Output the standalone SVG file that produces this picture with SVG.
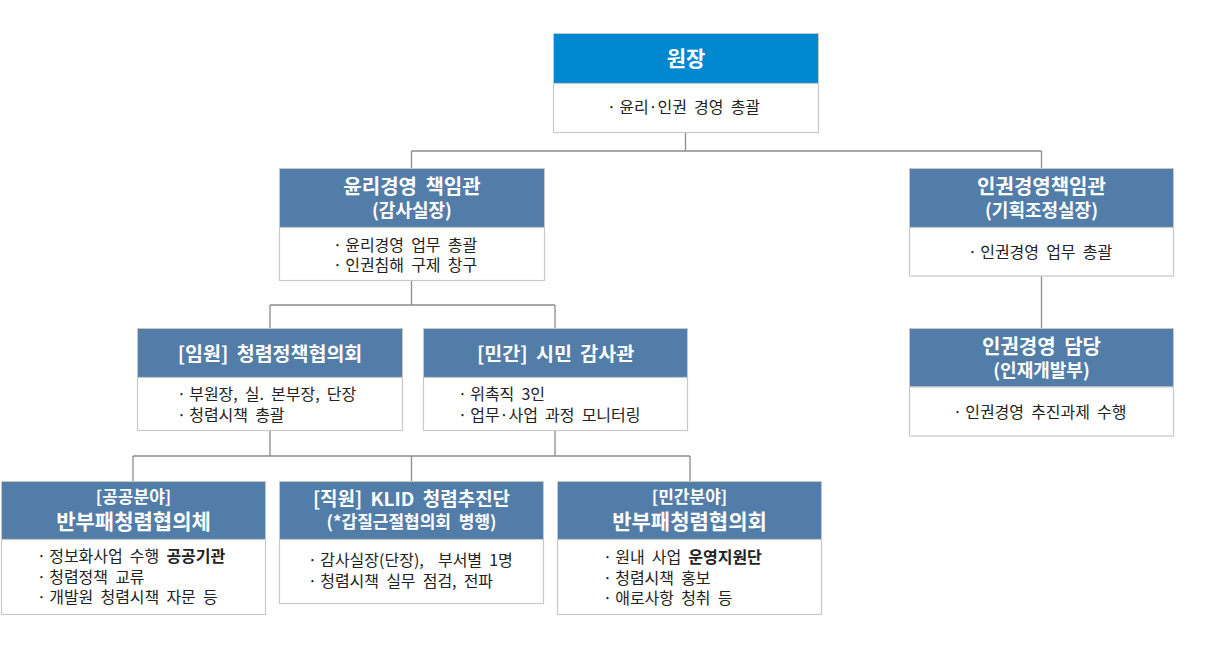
<svg xmlns="http://www.w3.org/2000/svg" width="1216" height="650" viewBox="0 0 1216 650">
<style>
.hd{fill:#527DA9;stroke:#C8C8C8;stroke-width:1}
.hdt{fill:#0088CF;stroke:#C8C8C8;stroke-width:1}
.bd{fill:#FFFFFF;stroke:#C8C8C8;stroke-width:1.2}
.ht{font-family:"Noto Sans CJK KR","Noto Sans",sans-serif;font-weight:700;fill:#FFFFFF;text-anchor:middle;word-spacing:4px}
.bt{font-family:"Noto Sans CJK KR","Noto Sans",sans-serif;font-size:16px;fill:#222222;word-spacing:3.5px}
.b{font-weight:700}
.cn{fill:none;stroke:#8C8C8C;stroke-width:1.3}
</style>
<rect width="1216" height="650" fill="#FFFFFF"/>
<g id="connectors">
<path class="cn" d="M685.5 132V151M411.5 151H1041.5M411.5 151V169M1041.5 151V169"/>
<path class="cn" d="M411.5 280V305M270 305H555M270 305V328M555 305V328"/>
<path class="cn" d="M1041.5 276V328"/>
<path class="cn" d="M270 431V456M555 431V456M133 456H690M133 456V482M411.5 456V482M690 456V482"/>
</g>
<g id="n-director">
<rect class="hdt" x="553.5" y="33.5" width="265" height="50"/>
<rect class="bd" x="553.5" y="83.5" width="265" height="49"/>
<text class="ht" x="686" y="66" font-size="21">원장</text>
<text class="bt" x="607" y="113">·&#8201;윤리·인권 경영 총괄</text>
</g>
<g id="n-ethics">
<rect class="hd" x="279.5" y="168.5" width="265" height="59"/>
<rect class="bd" x="279.5" y="227.5" width="265" height="53"/>
<text class="ht" x="412" y="194" font-size="20">윤리경영 책임관</text>
<text class="ht" x="412" y="217" font-size="18">(감사실장)</text>
<text class="bt" x="333" y="251">·&#8201;윤리경영 업무 총괄</text>
<text class="bt" x="333" y="271">·&#8201;인권침해 구제 창구</text>
</g>
<g id="n-hr">
<rect class="hd" x="909.5" y="168.5" width="264" height="59"/>
<rect class="bd" x="909.5" y="227.5" width="264" height="48.5"/>
<text class="ht" x="1041.5" y="194" font-size="20">인권경영책임관</text>
<text class="ht" x="1041.5" y="217" font-size="18">(기획조정실장)</text>
<text class="bt" x="968" y="258">·&#8201;인권경영 업무 총괄</text>
</g>
<g id="n-exec">
<rect class="hd" x="137.5" y="328.5" width="265" height="49"/>
<rect class="bd" x="137.5" y="377.5" width="265" height="53"/>
<text class="ht" x="270" y="361" font-size="19.5">[임원] 청렴정책협의회</text>
<text class="bt" x="177" y="400">·&#8201;부원장, 실. 본부장, 단장</text>
<text class="bt" x="177" y="421">·&#8201;청렴시책 총괄</text>
</g>
<g id="n-civil">
<rect class="hd" x="423.5" y="328.5" width="264" height="49"/>
<rect class="bd" x="423.5" y="377.5" width="264" height="53"/>
<text class="ht" x="555.5" y="361" font-size="19.5">[민간] 시민 감사관</text>
<text class="bt" x="458" y="400">·&#8201;위촉직 3인</text>
<text class="bt" x="458" y="421">·&#8201;업무·사업 과정 모니터링</text>
</g>
<g id="n-hrstaff">
<rect class="hd" x="909.5" y="328.5" width="264" height="58.5"/>
<rect class="bd" x="909.5" y="387" width="264" height="49"/>
<text class="ht" x="1041.5" y="354" font-size="20">인권경영 담당</text>
<text class="ht" x="1041.5" y="377" font-size="18">(인재개발부)</text>
<text class="bt" x="953" y="418">·&#8201;인권경영 추진과제 수행</text>
</g>
<g id="n-public">
<rect class="hd" x="1.5" y="481.5" width="264" height="58"/>
<rect class="bd" x="1.5" y="539.5" width="264" height="75"/>
<text class="ht" x="133.5" y="503" font-size="17">[공공분야]</text>
<text class="ht" x="133.5" y="529" font-size="21">반부패청렴협의체</text>
<text class="bt" x="37" y="562">·&#8201;정보화사업 수행 <tspan class="b">공공기관</tspan></text>
<text class="bt" x="37" y="583">·&#8201;청렴정책 교류</text>
<text class="bt" x="37" y="603">·&#8201;개발원 청렴시책 자문 등</text>
</g>
<g id="n-staff">
<rect class="hd" x="279.5" y="481.5" width="264" height="58"/>
<rect class="bd" x="279.5" y="539.5" width="264" height="64"/>
<text class="ht" x="411.5" y="506" font-size="19">[직원] KLID 청렴추진단</text>
<text class="ht" x="411.5" y="528" font-size="17" word-spacing="9">(*갑질근절협의회 병행)</text>
<text class="bt" x="308" y="566">·&#8201;감사실장(단장),&#160; 부서별 1명</text>
<text class="bt" x="308" y="587">·&#8201;청렴시책 실무 점검, 전파</text>
</g>
<g id="n-private">
<rect class="hd" x="557.5" y="481.5" width="264" height="58"/>
<rect class="bd" x="557.5" y="539.5" width="264" height="75"/>
<text class="ht" x="689.5" y="503" font-size="17">[민간분야]</text>
<text class="ht" x="689.5" y="529" font-size="21">반부패청렴협의회</text>
<text class="bt" x="603" y="563">·&#8201;원내 사업 <tspan class="b">운영지원단</tspan></text>
<text class="bt" x="603" y="584">·&#8201;청렴시책 홍보</text>
<text class="bt" x="603" y="604">·&#8201;애로사항 청취 등</text>
</g>
</svg>
